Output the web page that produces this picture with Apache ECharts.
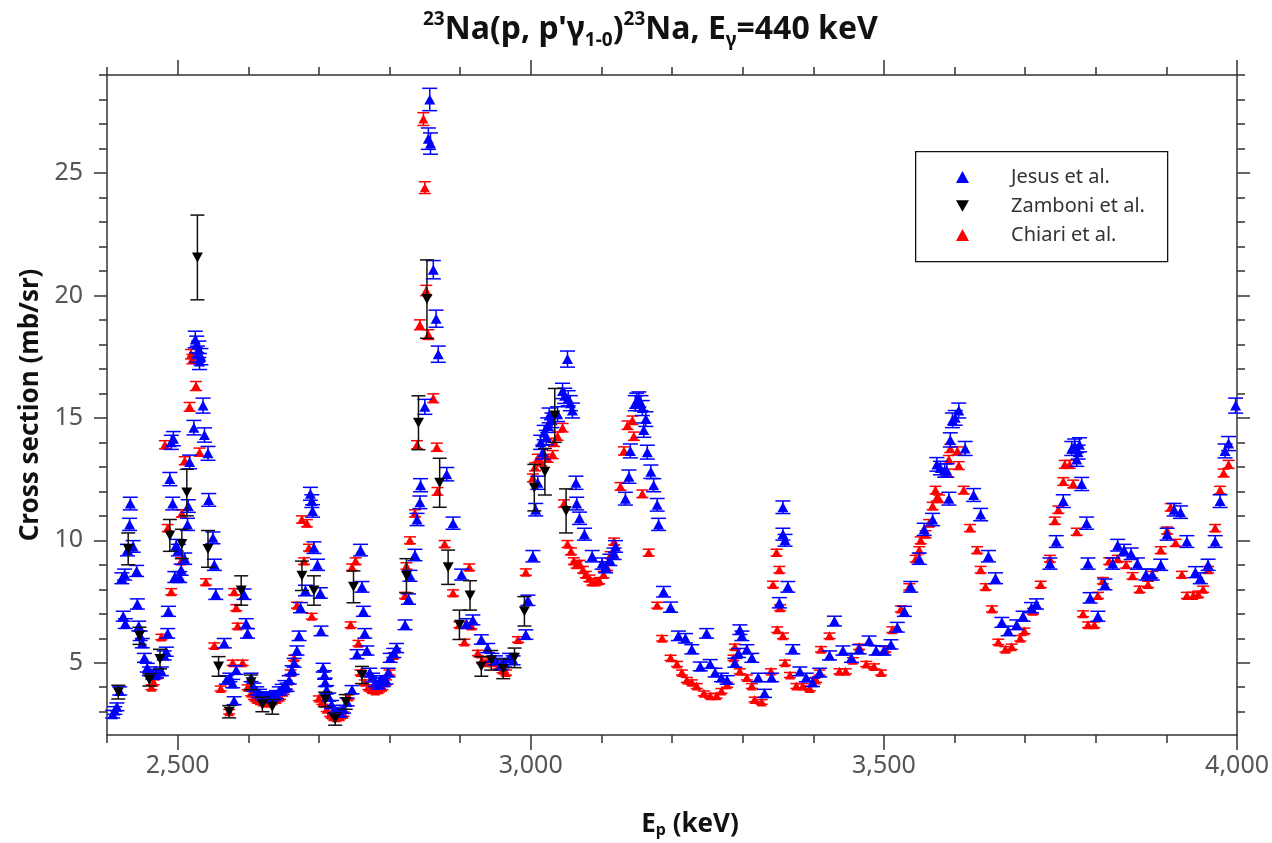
<!DOCTYPE html>
<html>
<head>
<meta charset="utf-8">
<script src="https://cdn.jsdelivr.net/npm/echarts@6/dist/echarts.min.js"></script>
<style>html,body{margin:0;padding:0;background:#fff;}#chart{width:1272px;height:843px;}</style>
</head>
<body>
<div id="chart"></div>
<script>
// ---- data (Ep in keV, cross section in mb/sr) ----
const jesusData = [
[2408,2.9],[2411,3.05],[2414,3.2],[2418,3.85],[2421,8.45],[2423,6.9],[2425,8.6],[2426,6.6],[2429,9.6],[2432,10.65],[2433,11.5],[2437,9.75],[2442,8.75],[2443,7.4],[2445,6.5],[2447,6.1],[2450,5.8],[2453,5.2],[2457,4.8],[2460,4.65],[2465,4.5],[2470,4.55],[2477,4.65],[2481,5.3],[2484,5.45],[2486,6.2],[2487,7.1],[2489,12.5],[2491,14.0],[2493,11.5],[2494,14.15],[2496,8.5],[2498,9.8],[2501,9.6],[2503,8.5],[2505,8.8],[2510,9.25],[2514,10.65],[2515,11.4],[2517,13.2],[2523,14.6],[2525,18.2],[2527,18.0],[2528,17.6],[2530,17.8],[2531,17.3],[2533,17.5],[2536,15.5],[2538,14.3],[2543,13.55],[2544,11.65],[2550,10.1],[2552,9.0],[2554,7.8],[2566,5.8],[2569,4.3],[2574,4.4],[2578,4.15],[2580,3.45],[2583,4.7],[2594,7.8],[2597,6.6],[2599,6.2],[2604,4.4],[2608,4.0],[2612,3.85],[2616,3.75],[2620,3.65],[2624,3.6],[2628,3.55],[2632,3.6],[2636,3.65],[2640,3.7],[2644,3.85],[2648,3.95],[2652,4.1],[2655,4.0],[2658,4.3],[2662,4.7],[2665,5.0],[2669,5.5],[2672,6.1],[2674,7.25],[2681,7.95],[2688,11.9],[2690,11.6],[2691,11.2],[2693,9.7],[2698,9.0],[2702,7.85],[2703,6.3],[2706,4.8],[2708,4.5],[2709,4.2],[2711,3.9],[2714,3.6],[2718,3.3],[2722,3.1],[2726,3.0],[2730,2.95],[2735,3.1],[2740,3.4],[2747,3.9],[2754,5.35],[2759,9.6],[2761,8.1],[2763,7.1],[2765,6.2],[2768,5.5],[2772,4.6],[2776,4.4],[2780,4.2],[2784,4.1],[2787,4.3],[2791,4.2],[2795,4.3],[2798,4.6],[2801,5.2],[2806,5.4],[2810,5.6],[2822,6.55],[2827,7.6],[2829,8.55],[2836,9.4],[2839,10.85],[2843,11.55],[2844,12.25],[2850,15.45],[2855,26.4],[2857,28.0],[2858,26.2],[2862,21.05],[2866,19.05],[2869,17.6],[2881,12.7],[2890,10.7],[2902,8.6],[2909,6.6],[2918,6.75],[2930,5.95],[2939,5.6],[2945,5.2],[2950,5.1],[2958,4.9],[2963,5.0],[2970,5.2],[2975,5.1],[2993,6.15],[2996,7.55],[3003,9.35],[3007,11.25],[3010,12.35],[3014,14.0],[3017,13.6],[3019,14.4],[3022,14.2],[3024,14.7],[3026,15.1],[3030,14.9],[3038,15.15],[3045,16.1],[3048,15.9],[3052,17.4],[3053,15.8],[3056,15.6],[3059,15.3],[3064,12.35],[3065,11.5],[3069,10.9],[3076,10.25],[3087,9.35],[3101,9.05],[3106,8.9],[3112,9.2],[3118,9.45],[3120,9.75],[3134,11.7],[3139,12.6],[3141,13.65],[3148,15.6],[3150,15.7],[3153,15.75],[3156,15.6],[3158,15.4],[3160,14.5],[3163,14.95],[3165,13.6],[3170,12.8],[3174,12.25],[3179,11.45],[3181,10.65],[3188,7.9],[3198,7.27],[3209,6.1],[3219,6.0],[3228,5.55],[3240,4.85],[3249,6.2],[3254,4.95],[3261,4.6],[3270,4.4],[3278,4.3],[3289,5.0],[3294,5.4],[3296,6.35],[3299,6.1],[3306,5.55],[3313,5.2],[3322,4.4],[3331,3.75],[3341,4.4],[3352,7.45],[3357,10.25],[3357,11.35],[3360,10.0],[3364,8.1],[3371,5.55],[3381,4.65],[3390,4.4],[3399,4.2],[3409,4.6],[3423,5.3],[3430,6.7],[3442,5.5],[3454,5.2],[3465,5.55],[3479,5.9],[3489,5.5],[3500,5.5],[3510,5.75],[3519,6.45],[3529,7.1],[3538,8.1],[3550,9.25],[3557,10.45],[3569,10.85],[3575,13.1],[3580,12.95],[3586,12.85],[3589,12.85],[3592,11.7],[3594,14.1],[3597,14.9],[3601,15.0],[3606,15.3],[3615,13.75],[3627,11.85],[3637,11.05],[3648,9.35],[3658,8.45],[3667,6.65],[3676,6.3],[3688,6.55],[3697,6.9],[3709,7.25],[3716,7.4],[3735,9.05],[3744,9.95],[3754,11.6],[3766,13.75],[3770,13.85],[3773,13.3],[3775,13.6],[3777,13.9],[3780,12.3],[3787,10.7],[3789,9.05],[3792,7.65],[3803,6.9],[3813,8.2],[3824,9.05],[3831,9.8],[3840,9.6],[3850,9.45],[3859,9.05],[3871,8.6],[3880,8.6],[3892,9.0],[3901,10.25],[3911,11.25],[3920,11.15],[3929,9.95],[3941,8.7],[3948,8.45],[3959,9.0],[3969,9.95],[3976,11.6],[3983,13.65],[3988,13.95],[3998,15.5]
];
const chiariData = [
[2463,4.0],[2466,4.2],[2472,4.5],[2477,6.05],[2482,13.9],[2486,10.5],[2491,7.9],[2505,9.15],[2506,11.1],[2510,13.25],[2517,15.45],[2519,17.6],[2521,17.4],[2526,16.3],[2531,13.6],[2540,8.3],[2552,5.7],[2561,3.95],[2573,3.0],[2578,5.0],[2580,7.9],[2583,7.25],[2585,6.5],[2592,5.0],[2599,4.0],[2604,3.75],[2608,3.6],[2612,3.5],[2616,3.45],[2620,3.4],[2625,3.35],[2630,3.4],[2635,3.45],[2640,3.5],[2645,3.6],[2650,3.8],[2655,4.0],[2660,4.6],[2665,5.2],[2669,7.35],[2676,10.85],[2679,9.15],[2683,10.7],[2686,9.7],[2690,6.9],[2700,3.55],[2705,3.4],[2711,3.1],[2716,2.9],[2720,2.8],[2725,2.75],[2730,2.8],[2735,2.9],[2742,3.6],[2745,6.55],[2747,8.9],[2752,9.15],[2756,5.8],[2759,4.6],[2765,4.2],[2770,4.0],[2775,3.9],[2780,3.85],[2785,3.9],[2790,4.0],[2795,4.2],[2800,4.6],[2806,5.3],[2822,7.75],[2824,8.95],[2829,10.0],[2836,11.1],[2839,13.9],[2843,18.8],[2848,27.2],[2850,24.4],[2852,20.2],[2855,18.4],[2862,15.8],[2867,13.8],[2868,12.0],[2878,9.85],[2890,7.85],[2899,6.55],[2906,5.85],[2913,8.9],[2916,6.5],[2925,5.4],[2931,5.1],[2937,5.0],[2946,5.0],[2954,4.85],[2960,4.7],[2965,4.6],[2982,5.95],[2993,8.7],[3003,12.55],[3006,13.0],[3010,13.35],[3015,13.2],[3024,13.35],[3031,13.5],[3033,14.0],[3038,14.25],[3045,14.6],[3047,11.5],[3052,9.85],[3057,9.55],[3061,9.15],[3065,9.0],[3069,9.05],[3074,8.8],[3078,8.6],[3083,8.45],[3087,8.3],[3092,8.3],[3097,8.35],[3103,8.6],[3108,8.9],[3113,9.4],[3118,9.95],[3127,12.2],[3132,13.65],[3137,14.7],[3144,14.9],[3146,14.25],[3158,11.9],[3167,9.5],[3179,7.35],[3186,6.0],[3198,5.2],[3207,4.95],[3214,4.6],[3221,4.3],[3228,4.2],[3235,4.05],[3245,3.75],[3254,3.65],[3263,3.65],[3270,3.85],[3278,4.1],[3287,5.2],[3289,5.65],[3296,4.65],[3306,4.4],[3313,4.05],[3317,3.5],[3327,3.4],[3340,4.65],[3343,8.2],[3348,9.5],[3349,6.35],[3352,8.8],[3353,7.25],[3357,6.1],[3360,5.0],[3367,4.5],[3376,4.05],[3385,4.05],[3395,3.95],[3404,4.3],[3409,4.6],[3411,5.55],[3423,6.1],[3437,4.65],[3446,4.65],[3456,5.1],[3465,5.65],[3475,4.95],[3486,4.85],[3496,4.6],[3502,5.55],[3512,6.35],[3524,7.2],[3536,8.1],[3545,9.25],[3550,9.6],[3552,10.0],[3559,10.25],[3564,10.7],[3569,11.4],[3573,12.05],[3575,11.75],[3578,11.7],[3590,12.75],[3592,13.3],[3594,13.75],[3604,13.65],[3606,13.05],[3613,12.05],[3622,10.5],[3632,9.6],[3637,8.8],[3644,8.1],[3653,7.2],[3662,5.85],[3672,5.55],[3681,5.65],[3693,6.0],[3699,6.3],[3711,7.1],[3722,8.2],[3735,9.25],[3742,10.8],[3747,11.25],[3754,12.4],[3756,13.1],[3763,13.1],[3768,12.3],[3773,10.35],[3782,7.0],[3789,6.55],[3798,6.55],[3803,7.75],[3810,8.35],[3819,9.15],[3831,9.25],[3843,9.0],[3852,8.55],[3862,8.0],[3874,8.2],[3880,8.6],[3892,9.6],[3901,10.4],[3906,11.35],[3913,9.9],[3922,8.6],[3929,7.75],[3938,7.75],[3945,7.8],[3952,8.0],[3959,8.8],[3969,10.5],[3976,12.05],[3981,12.75],[3988,13.1]
];
// [Ep, sigma, uncertainty]
const zamboniData = [
[2416,3.8,0.28],[2430,9.65,0.65],[2446,6.1,0.35],[2460,4.3,0.25],[2475,5.15,0.4],[2489,10.2,0.65],[2506,9.85,0.6],[2513,11.95,0.95],[2528,21.55,1.73],[2543,9.65,0.75],[2558,4.85,0.4],[2573,3.0,0.25],[2590,7.95,0.6],[2604,4.2,0.3],[2620,3.3,0.3],[2634,3.2,0.3],[2676,8.55,0.6],[2693,7.95,0.6],[2709,3.5,0.3],[2723,2.7,0.25],[2738,3.4,0.3],[2749,8.1,0.65],[2761,4.5,0.35],[2824,8.55,0.7],[2841,14.8,1.1],[2853,19.85,1.6],[2871,12.35,1.0],[2883,8.9,0.7],[2899,6.55,0.6],[2914,7.75,0.6],[2930,4.85,0.4],[2944,5.1,0.4],[2961,4.75,0.4],[2977,5.2,0.4],[2991,7.1,0.6],[3005,12.15,0.95],[3020,12.8,0.95],[3034,15.1,1.1],[3050,11.2,0.9]
];
// uncertainty model for Jesus / Chiari (absolute + relative)
const jesusUnc = {abs: 0.12, rel: 0.012};
const chiariUnc = {abs: 0.07, rel: 0.007};

const xMajorTicks = [2500, 3000, 3500, 4000];
const xMinorTicks = [2400,2500,2600,2700,2800,2900,3000,3100,3200,3300,3400,3500,3600,3700,3800,3900,4000];
const yMajorTicks = [5, 10, 15, 20, 25];
const yMinorTicks = [3,4,5,6,7,8,9,10,11,12,13,14,15,16,17,18,19,20,21,22,23,24,25,26,27,28,29];
const xRange = [2400, 4000];
const yRange = [2.05, 29];
const legendNames = ['Jesus et al.', 'Zamboni et al.', 'Chiari et al.'];

// ---- chart ----
const FONT = 'Noto Sans';
const AXIS_COLOR = '#333';
const chart = echarts.init(document.getElementById('chart'), null, {renderer: 'canvas'});

function withUnc(data, unc) {
  return data.map(d => [d[0], d[1], unc.abs + unc.rel * d[1]]);
}
function errRender(capW, color, lw) {
  return function (params, api) {
    const x = api.value(0), y = api.value(1), e = api.value(2);
    const lo = api.coord([x, y - e]);
    const hi = api.coord([x, y + e]);
    const st = {stroke: color, lineWidth: lw, fill: null};
    const h = capW / 2;
    return {
      type: 'group',
      children: [
        {type: 'line', shape: {x1: lo[0], y1: lo[1], x2: hi[0], y2: hi[1]}, style: st},
        {type: 'line', shape: {x1: lo[0] - h, y1: lo[1], x2: lo[0] + h, y2: lo[1]}, style: st},
        {type: 'line', shape: {x1: hi[0] - h, y1: hi[1], x2: hi[0] + h, y2: hi[1]}, style: st}
      ]
    };
  };
}

function xAxisDef(position, major, showLine, showLabel) {
  return {
    type: 'value', position: position, min: xRange[0], max: xRange[1],
    gridIndex: 0,
    axisLine: {show: showLine, onZero: false, lineStyle: {color: AXIS_COLOR, width: 1.5}},
    axisTick: {show: true, inside: false, length: major ? 15 : 8, customValues: major ? xMajorTicks : xMinorTicks,
      lineStyle: {color: AXIS_COLOR, width: 1.5}},
    axisLabel: {show: showLabel, customValues: xMajorTicks, margin: 18, color: '#555',
      fontFamily: FONT, fontSize: 25,
      formatter: v => Number(v).toLocaleString('en-US')},
    splitLine: {show: false}
  };
}
function yAxisDef(position, major, showLine, showLabel) {
  return {
    type: 'value', position: position, min: yRange[0], max: yRange[1],
    gridIndex: 0,
    axisLine: {show: showLine, onZero: false, lineStyle: {color: AXIS_COLOR, width: 1.5}},
    axisTick: {show: true, inside: false, length: major ? 13 : 8, customValues: major ? yMajorTicks : yMinorTicks,
      lineStyle: {color: AXIS_COLOR, width: 1.5}},
    axisLabel: {show: showLabel, customValues: yMajorTicks, margin: 24, color: '#555',
      fontFamily: FONT, fontSize: 25},
    splitLine: {show: false}
  };
}

const xAxes = [
  Object.assign(xAxisDef('bottom', true, true, true), {
    name: 'E{sub|p} (keV)', nameLocation: 'middle', nameGap: 77,
    nameTextStyle: {fontFamily: FONT, fontSize: 26, fontWeight: 'bold', color: '#111', padding: [0, 0, 0, 36],
      rich: {sub: {fontFamily: FONT, fontSize: 16, fontWeight: 'bold', color: '#111', verticalAlign: 'bottom', lineHeight: 22}}}
  }),
  xAxisDef('bottom', false, false, false),
  xAxisDef('top', true, true, false),
  xAxisDef('top', false, false, false)
];
const yAxes = [
  Object.assign(yAxisDef('left', true, true, true), {
    name: 'Cross section (mb/sr)', nameLocation: 'middle', nameGap: 60, nameRotate: 90,
    nameTextStyle: {fontFamily: FONT, fontSize: 26, fontWeight: 'bold', color: '#111'}
  }),
  yAxisDef('left', false, false, false),
  yAxisDef('right', true, true, false),
  yAxisDef('right', false, false, false)
];

const option = {
  backgroundColor: '#fff',
  animation: false,
  title: {
    text: '{sup|23}{b|Na(p, p\'γ}{sub|1-0}{b|)}{sup|23}{b|Na, E}{sub|γ}{b|=440 keV}',
    left: 418, top: 5,
    textStyle: {
      rich: {
        b: {fontFamily: FONT, fontSize: 32, fontWeight: 'bold', color: '#111', lineHeight: 40},
        sup: {fontFamily: FONT, fontSize: 19, fontWeight: 'bold', color: '#111', verticalAlign: 'top', lineHeight: 25},
        sub: {fontFamily: FONT, fontSize: 19, fontWeight: 'bold', color: '#111', verticalAlign: 'bottom', lineHeight: 22}
      }
    }
  },
  grid: {left: 107, right: 34, top: 75, bottom: 100, containLabel: false},
  xAxis: xAxes,
  yAxis: yAxes,
  legend: {
    data: legendNames,
    orient: 'vertical', left: 951, top: 162,
    itemWidth: 13, itemHeight: 12, itemGap: 9,
    textStyle: {fontFamily: FONT, fontSize: 20, color: '#333', padding: [0, 0, 0, 37]},
    selectedMode: false
  },
  graphic: [{
    type: 'rect', left: 915, top: 151, z: 100,
    shape: {width: 252, height: 110},
    style: {fill: 'rgba(0,0,0,0)', stroke: '#111', lineWidth: 1.3}
  }],
  series: [
    {type: 'custom', name: 'Chiari unc', renderItem: errRender(12, '#ff0000', 1.5), data: withUnc(chiariData, chiariUnc),
      encode: {x: 0, y: 1}, silent: true, z: 2},
    {type: 'scatter', name: 'Chiari et al.', data: chiariData, symbol: 'triangle', symbolSize: [10, 9],
      itemStyle: {color: '#ff0000', opacity: 1}, z: 3},
    {type: 'custom', name: 'Jesus unc', renderItem: errRender(15, '#0000ff', 1.5), data: withUnc(jesusData, jesusUnc),
      encode: {x: 0, y: 1}, silent: true, z: 4},
    {type: 'scatter', name: 'Jesus et al.', data: jesusData, symbol: 'triangle', symbolSize: [11, 10],
      itemStyle: {color: '#0000ff', opacity: 1}, z: 5},
    {type: 'custom', name: 'Zamboni unc', renderItem: errRender(14, '#111', 1.5), data: zamboniData,
      encode: {x: 0, y: 1}, silent: true, z: 6},
    {type: 'scatter', name: 'Zamboni et al.', data: zamboniData.map(d => [d[0], d[1]]),
      symbol: 'path://M0,0 L10,0 L5,9 Z', symbolSize: [11, 10],
      itemStyle: {color: '#000', opacity: 1}, z: 7}
  ]
};
chart.setOption(option);
</script>
</body>
</html>
